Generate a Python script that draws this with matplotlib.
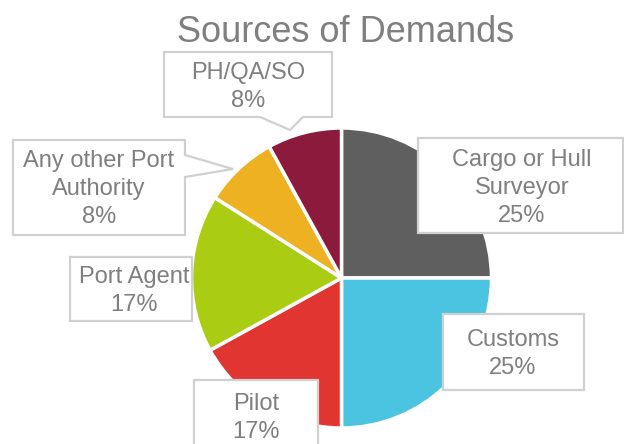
import matplotlib.pyplot as plt
from matplotlib.patches import Polygon

plt.rcParams['font.family'] = ['Liberation Sans', 'DejaVu Sans']

# data
labels = ['Cargo or Hull\nSurveyor', 'Customs', 'Pilot', 'Port Agent',
          'Any other Port\nAuthority', 'PH/QA/SO']
shares = [25, 25, 17, 17, 8, 8]
colors = ['#5f5f5f', '#4bc4e2', '#e03531', '#aacd13', '#edb122', '#8c1a3c']

W, H = 624, 444


def Y(y):
    # pixel row (from top) -> data y
    return H - y


fig = plt.figure(figsize=(W / 100, H / 100), dpi=100)
ax = fig.add_axes([0, 0, 1, 1])

ax.pie(shares, colors=colors, startangle=90, counterclock=False,
       center=(341.5, Y(278)), radius=150, frame=True,
       wedgeprops=dict(edgecolor='white', linewidth=2.5))
ax.set_xlim(0, W)
ax.set_ylim(0, H)
ax.set_aspect('equal')
ax.axis('off')

# callout boxes (pixel coords from top-left): outline polygon, text centre
boxes = [
    ([(418, 138), (623, 138), (623, 233), (418, 233)], (522, 188)),
    ([(443, 314), (584, 314), (584, 390), (443, 390)], (513, 354)),
    ([(194, 380), (318, 380), (318, 470), (194, 470)], (256, 418)),
    ([(70, 257), (192, 257), (192, 321), (70, 321)], (134, 291)),
    ([(13, 140), (185, 140), (185, 155), (233, 169), (185, 177),
      (185, 235), (13, 235)], (99, 189)),
    ([(164, 52), (332, 52), (332, 117), (303, 117), (290, 130),
      (260, 117), (164, 117)], (248, 87)),
]

for lab, val, (pts, (tx, ty)) in zip(labels, shares, boxes):
    poly = Polygon([(x, Y(y)) for x, y in pts], closed=True,
                   facecolor='white', edgecolor='#d0d0d0', linewidth=1.6,
                   zorder=5)
    ax.add_patch(poly)
    ax.text(tx, Y(ty), f'{lab}\n{val}%', ha='center', va='center',
            fontsize=17, color='#7f7f7f', linespacing=1.35, zorder=6)

ax.text(346, Y(42), 'Sources of Demands', ha='center', va='baseline',
        fontsize=26, color='#7f7f7f')

fig.savefig('out.png', dpi=100)
